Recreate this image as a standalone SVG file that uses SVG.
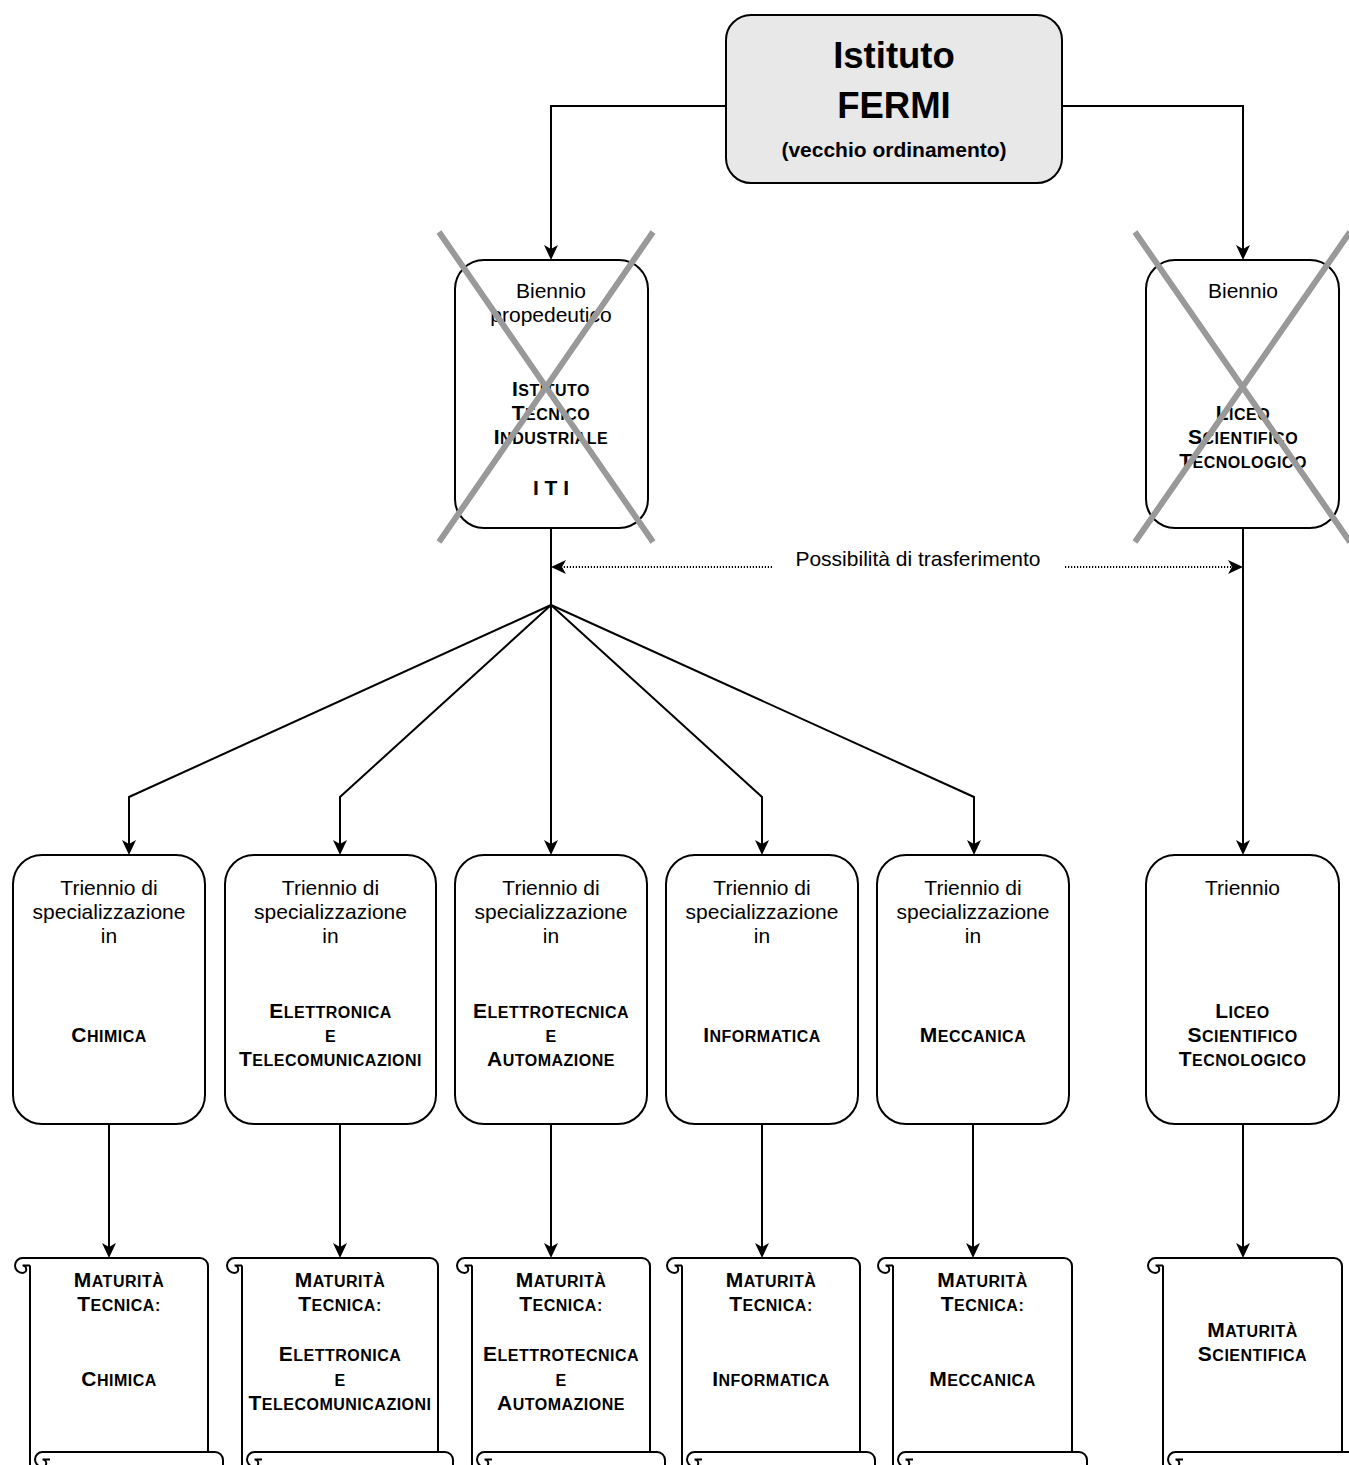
<svg xmlns="http://www.w3.org/2000/svg" width="1349" height="1465" viewBox="0 0 1349 1465">
<style>
text{font-family:"Liberation Sans",Arial,sans-serif;text-anchor:middle;fill:#000}
.r{font-size:21px}
.k{font-weight:bold;letter-spacing:0.5px}
.B{font-size:21px}
.s{font-size:16px}
.box{fill:#fff;stroke:#000;stroke-width:2}
.ttl{fill:#e8e8e8;stroke:#000;stroke-width:2}
.x{stroke:#999;stroke-width:6;fill:none}
.sc{fill:none;stroke:#000;stroke-width:2}
.c{fill:none;stroke:#000;stroke-width:2}
.d{fill:none;stroke:#000;stroke-width:2;stroke-dasharray:1.2 1.8}
</style>
<defs>
<marker id="arr" markerUnits="userSpaceOnUse" markerWidth="20" markerHeight="20" viewBox="-6 -10 20 20" refX="0" refY="0" orient="auto">
<path d="M11,0 L-4,-7 L0,0 L-4,7 Z" fill="#000"/>
</marker>
</defs>

<g id="connectors">
<path class="c" d="M726,106 H551 V249" marker-end="url(#arr)"/>
<path class="c" d="M1062,106 H1243 V249" marker-end="url(#arr)"/>
<path class="c" d="M551,528 V605 L129,797 V844" marker-end="url(#arr)"/>
<path class="c" d="M551,605 L340,797 V844" marker-end="url(#arr)"/>
<path class="c" d="M551,605 V844" marker-end="url(#arr)"/>
<path class="c" d="M551,605 L762,797 V844" marker-end="url(#arr)"/>
<path class="c" d="M551,605 L974,797 V844" marker-end="url(#arr)"/>
<path class="c" d="M1243,528 V844" marker-end="url(#arr)"/>
<path class="c" d="M109,1124 V1247" marker-end="url(#arr)"/>
<path class="c" d="M340,1124 V1247" marker-end="url(#arr)"/>
<path class="c" d="M551,1124 V1247" marker-end="url(#arr)"/>
<path class="c" d="M762,1124 V1247" marker-end="url(#arr)"/>
<path class="c" d="M973,1124 V1247" marker-end="url(#arr)"/>
<path class="c" d="M1243,1124 V1247" marker-end="url(#arr)"/>
<path class="d" d="M772,567 H562" marker-end="url(#arr)"/>
<path class="d" d="M1065,567 H1232" marker-end="url(#arr)"/>
<text class="r" x="918" y="566">Possibilità di trasferimento</text>
</g>

<g id="fermi">
<rect class="ttl" x="726" y="15" width="336" height="168" rx="25" ry="25"/>
<text x="894" y="68" font-size="36.5" font-weight="bold">Istituto</text>
<text x="894" y="118" font-size="36.5" font-weight="bold">FERMI</text>
<text x="894" y="157" font-size="21" font-weight="bold">(vecchio ordinamento)</text>
</g>

<g id="iti">
<rect class="box" x="455" y="260" width="193" height="268" rx="29" ry="29"/>
<text class="r" x="551" y="298">Biennio</text>
<text class="r" x="551" y="322">propedeutico</text>
<text class="k" x="551" y="396"><tspan class="B">I</tspan><tspan class="s">STITUTO</tspan></text>
<text class="k" x="551" y="420"><tspan class="B">T</tspan><tspan class="s">ECNICO</tspan></text>
<text class="k" x="551" y="444"><tspan class="B">I</tspan><tspan class="s">NDUSTRIALE</tspan></text>
<text x="551" y="495" font-size="21" font-weight="bold">I T I</text>
<path class="x" d="M439,232 L653,542 M653,232 L439,542"/>
</g>

<g id="liceo-biennio">
<rect class="box" x="1146" y="260" width="193" height="268" rx="29" ry="29"/>
<text class="r" x="1243" y="298">Biennio</text>
<text class="k" x="1243" y="420"><tspan class="B">L</tspan><tspan class="s">ICEO</tspan></text>
<text class="k" x="1243" y="444"><tspan class="B">S</tspan><tspan class="s">CIENTIFICO</tspan></text>
<text class="k" x="1243" y="468"><tspan class="B">T</tspan><tspan class="s">ECNOLOGICO</tspan></text>
<path class="x" d="M1135,232 L1350,542 M1350,232 L1135,542"/>
</g>

<g id="tri-chimica">
<rect class="box" x="13" y="855" width="192" height="269" rx="29" ry="29"/>
<text class="r" x="109" y="895">Triennio di</text>
<text class="r" x="109" y="919">specializzazione</text>
<text class="r" x="109" y="943">in</text>
<text class="k" x="109" y="1042"><tspan class="B">C</tspan><tspan class="s">HIMICA</tspan></text>
</g>

<g id="tri-elettronica">
<rect class="box" x="225" y="855" width="211" height="269" rx="29" ry="29"/>
<text class="r" x="330.5" y="895">Triennio di</text>
<text class="r" x="330.5" y="919">specializzazione</text>
<text class="r" x="330.5" y="943">in</text>
<text class="k" x="330.5" y="1018"><tspan class="B">E</tspan><tspan class="s">LETTRONICA</tspan></text>
<text class="k" x="330.5" y="1042"><tspan class="s">E</tspan></text>
<text class="k" x="330.5" y="1066"><tspan class="B">T</tspan><tspan class="s">ELECOMUNICAZIONI</tspan></text>
</g>

<g id="tri-elettrotecnica">
<rect class="box" x="455" y="855" width="192" height="269" rx="29" ry="29"/>
<text class="r" x="551" y="895">Triennio di</text>
<text class="r" x="551" y="919">specializzazione</text>
<text class="r" x="551" y="943">in</text>
<text class="k" x="551" y="1018"><tspan class="B">E</tspan><tspan class="s">LETTROTECNICA</tspan></text>
<text class="k" x="551" y="1042"><tspan class="s">E</tspan></text>
<text class="k" x="551" y="1066"><tspan class="B">A</tspan><tspan class="s">UTOMAZIONE</tspan></text>
</g>

<g id="tri-informatica">
<rect class="box" x="666" y="855" width="192" height="269" rx="29" ry="29"/>
<text class="r" x="762" y="895">Triennio di</text>
<text class="r" x="762" y="919">specializzazione</text>
<text class="r" x="762" y="943">in</text>
<text class="k" x="762" y="1042"><tspan class="B">I</tspan><tspan class="s">NFORMATICA</tspan></text>
</g>

<g id="tri-meccanica">
<rect class="box" x="877" y="855" width="192" height="269" rx="29" ry="29"/>
<text class="r" x="973" y="895">Triennio di</text>
<text class="r" x="973" y="919">specializzazione</text>
<text class="r" x="973" y="943">in</text>
<text class="k" x="973" y="1042"><tspan class="B">M</tspan><tspan class="s">ECCANICA</tspan></text>
</g>

<g id="tri-liceo">
<rect class="box" x="1146" y="855" width="193" height="269" rx="29" ry="29"/>
<text class="r" x="1242.5" y="895">Triennio</text>
<text class="k" x="1242.5" y="1018"><tspan class="B">L</tspan><tspan class="s">ICEO</tspan></text>
<text class="k" x="1242.5" y="1042"><tspan class="B">S</tspan><tspan class="s">CIENTIFICO</tspan></text>
<text class="k" x="1242.5" y="1066"><tspan class="B">T</tspan><tspan class="s">ECNOLOGICO</tspan></text>
</g>

<g id="mat-chimica">
<path class="sc" d="M30,1265.5 V1470 M22.5,1258 H200 A8 8 0 0 1 208,1266 V1452 M22.5,1258 A7.5 7.5 0 0 0 22.5,1273 A3.75 3.75 0 0 0 22.5,1265.5 H30 M42.5,1452 H215 A8 8 0 0 1 223,1460 V1470 M42.5,1452 A7.5 7.5 0 0 0 42.5,1467 A3.75 3.75 0 0 0 42.5,1459.5 H50"/>
<text class="k" x="119" y="1287"><tspan class="B">M</tspan><tspan class="s">ATURITÀ</tspan></text>
<text class="k" x="119" y="1311"><tspan class="B">T</tspan><tspan class="s">ECNICA:</tspan></text>
<text class="k" x="119" y="1386"><tspan class="B">C</tspan><tspan class="s">HIMICA</tspan></text>
</g>

<g id="mat-elettronica">
<path class="sc" d="M242,1265.5 V1470 M234.5,1258 H430 A8 8 0 0 1 438,1266 V1452 M234.5,1258 A7.5 7.5 0 0 0 234.5,1273 A3.75 3.75 0 0 0 234.5,1265.5 H242 M254.5,1452 H445 A8 8 0 0 1 453,1460 V1470 M254.5,1452 A7.5 7.5 0 0 0 254.5,1467 A3.75 3.75 0 0 0 254.5,1459.5 H262"/>
<text class="k" x="340" y="1287"><tspan class="B">M</tspan><tspan class="s">ATURITÀ</tspan></text>
<text class="k" x="340" y="1311"><tspan class="B">T</tspan><tspan class="s">ECNICA:</tspan></text>
<text class="k" x="340" y="1361"><tspan class="B">E</tspan><tspan class="s">LETTRONICA</tspan></text>
<text class="k" x="340" y="1386"><tspan class="s">E</tspan></text>
<text class="k" x="340" y="1410"><tspan class="B">T</tspan><tspan class="s">ELECOMUNICAZIONI</tspan></text>
</g>

<g id="mat-elettrotecnica">
<path class="sc" d="M472,1265.5 V1470 M464.5,1258 H642 A8 8 0 0 1 650,1266 V1452 M464.5,1258 A7.5 7.5 0 0 0 464.5,1273 A3.75 3.75 0 0 0 464.5,1265.5 H472 M484.5,1452 H657 A8 8 0 0 1 665,1460 V1470 M484.5,1452 A7.5 7.5 0 0 0 484.5,1467 A3.75 3.75 0 0 0 484.5,1459.5 H492"/>
<text class="k" x="561" y="1287"><tspan class="B">M</tspan><tspan class="s">ATURITÀ</tspan></text>
<text class="k" x="561" y="1311"><tspan class="B">T</tspan><tspan class="s">ECNICA:</tspan></text>
<text class="k" x="561" y="1361"><tspan class="B">E</tspan><tspan class="s">LETTROTECNICA</tspan></text>
<text class="k" x="561" y="1386"><tspan class="s">E</tspan></text>
<text class="k" x="561" y="1410"><tspan class="B">A</tspan><tspan class="s">UTOMAZIONE</tspan></text>
</g>

<g id="mat-informatica">
<path class="sc" d="M682,1265.5 V1470 M674.5,1258 H852 A8 8 0 0 1 860,1266 V1452 M674.5,1258 A7.5 7.5 0 0 0 674.5,1273 A3.75 3.75 0 0 0 674.5,1265.5 H682 M694.5,1452 H867 A8 8 0 0 1 875,1460 V1470 M694.5,1452 A7.5 7.5 0 0 0 694.5,1467 A3.75 3.75 0 0 0 694.5,1459.5 H702"/>
<text class="k" x="771" y="1287"><tspan class="B">M</tspan><tspan class="s">ATURITÀ</tspan></text>
<text class="k" x="771" y="1311"><tspan class="B">T</tspan><tspan class="s">ECNICA:</tspan></text>
<text class="k" x="771" y="1386"><tspan class="B">I</tspan><tspan class="s">NFORMATICA</tspan></text>
</g>

<g id="mat-meccanica">
<path class="sc" d="M893,1265.5 V1470 M885.5,1258 H1064 A8 8 0 0 1 1072,1266 V1452 M885.5,1258 A7.5 7.5 0 0 0 885.5,1273 A3.75 3.75 0 0 0 885.5,1265.5 H893 M905.5,1452 H1079 A8 8 0 0 1 1087,1460 V1470 M905.5,1452 A7.5 7.5 0 0 0 905.5,1467 A3.75 3.75 0 0 0 905.5,1459.5 H913"/>
<text class="k" x="982.5" y="1287"><tspan class="B">M</tspan><tspan class="s">ATURITÀ</tspan></text>
<text class="k" x="982.5" y="1311"><tspan class="B">T</tspan><tspan class="s">ECNICA:</tspan></text>
<text class="k" x="982.5" y="1386"><tspan class="B">M</tspan><tspan class="s">ECCANICA</tspan></text>
</g>

<g id="mat-scientifica">
<path class="sc" d="M1163,1265.5 V1470 M1155.5,1258 H1334 A8 8 0 0 1 1342,1266 V1452 M1155.5,1258 A7.5 7.5 0 0 0 1155.5,1273 A3.75 3.75 0 0 0 1155.5,1265.5 H1163 M1175.5,1452 H1349 A8 8 0 0 1 1357,1460 V1470 M1175.5,1452 A7.5 7.5 0 0 0 1175.5,1467 A3.75 3.75 0 0 0 1175.5,1459.5 H1183"/>
<text class="k" x="1252.5" y="1337"><tspan class="B">M</tspan><tspan class="s">ATURITÀ</tspan></text>
<text class="k" x="1252.5" y="1361"><tspan class="B">S</tspan><tspan class="s">CIENTIFICA</tspan></text>
</g>
</svg>
